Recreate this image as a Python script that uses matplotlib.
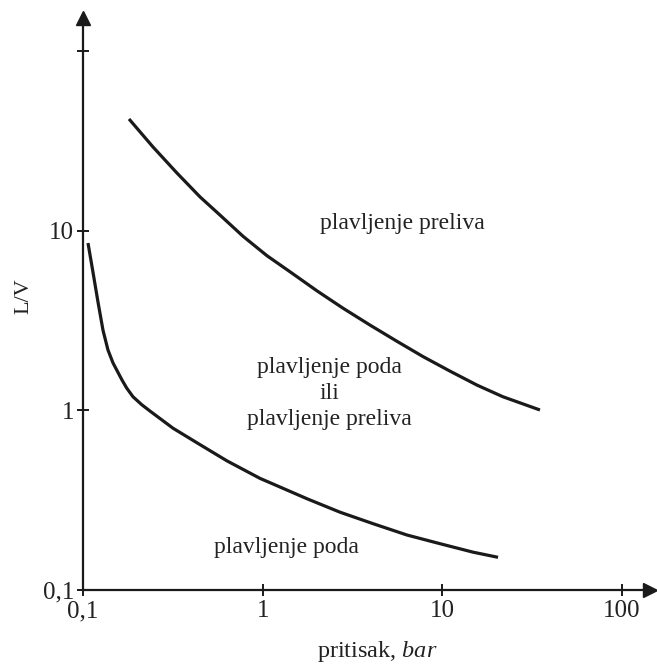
import matplotlib
matplotlib.use("Agg")
import matplotlib.pyplot as plt

# upper boundary curve (flooding of overflow)
upper_x = [0.1803, 0.2452, 0.3335, 0.4479, 0.5786, 0.777, 1.056, 1.419, 2.005, 2.798,
           3.955, 5.59, 7.80, 11.02, 15.58, 21.7, 34.9]
upper_y = [41.8, 29.2, 20.9, 15.4, 12.2, 9.3, 7.25, 5.90, 4.62, 3.70,
           2.98, 2.42, 1.99, 1.652, 1.381, 1.190, 1.004]

# lower boundary curve (flooding of floor)
lower_x = [0.1066, 0.1137, 0.1212, 0.1292, 0.1377, 0.1469, 0.1648, 0.175, 0.1897, 0.2121,
           0.236, 0.3168, 0.4479, 0.633, 0.966, 1.141, 1.764, 2.693, 4.11, 6.35, 9.70,
           14.8, 20.4]
lower_y = [8.53, 5.85, 4.00, 2.79, 2.166, 1.834, 1.475, 1.33, 1.19, 1.075,
           0.99, 0.795, 0.644, 0.523, 0.418, 0.389, 0.322, 0.271, 0.234, 0.2023, 0.181,
           0.1624, 0.152]

x_ticks = [0.1, 1, 10, 100]
x_ticklabels = ["0,1", "1", "10", "100"]
y_ticks = [0.1, 1, 10, 100]
y_ticklabels = ["0,1", "1", "10", ""]

region_labels = ["plavljenje preliva", "plavljenje poda\nili\nplavljenje preliva", "plavljenje poda"]
region_pos = [(5.96, 11.0), (2.34, 1.235), (1.35, 0.173)]

plt.rcParams['font.family'] = ['Liberation Serif', 'DejaVu Serif']
plt.rcParams['mathtext.fontset'] = 'custom'
plt.rcParams['mathtext.rm'] = 'Liberation Serif'
plt.rcParams['mathtext.it'] = 'Liberation Serif:italic'

W, H = 657, 664
fig = plt.figure(figsize=(W / 100, H / 100), dpi=100)
left, bottom = 83 / W, (H - 590) / H
ax = fig.add_axes([left, bottom, (650 - 83) / W, (590 - 18) / H])

ax.set_xscale('log')
ax.set_yscale('log')
px = 179.7
ax.set_xlim(0.1, 10 ** (-1 + (650 - 83) / px))
ax.set_ylim(0.1, 10 ** (-1 + (590 - 18) / px))

ink = '#1a1a1a'
ax.plot(upper_x, upper_y, color=ink, lw=2.3, solid_capstyle='butt', solid_joinstyle='round')
ax.plot(lower_x, lower_y, color=ink, lw=2.3, solid_capstyle='butt', solid_joinstyle='round')

for s in ['top', 'right']:
    ax.spines[s].set_visible(False)
for s in ['left', 'bottom']:
    ax.spines[s].set_linewidth(1.6)
    ax.spines[s].set_color(ink)

# arrow heads
ax.plot([1], [0], marker='>', color=ink, markersize=10, transform=ax.transAxes, clip_on=False)
ax.plot([0], [1], marker='^', color=ink, markersize=10, transform=ax.transAxes, clip_on=False)

ax.set_xticks(x_ticks)
ax.set_xticklabels(x_ticklabels)
ax.set_yticks(y_ticks)
ax.set_yticklabels(y_ticklabels)
ax.minorticks_off()
ax.tick_params(axis='both', direction='inout', length=9, width=1.4, colors=ink,
               labelsize=18, labelcolor='#222222')
ax.tick_params(axis='x', pad=3)
ax.tick_params(axis='y', pad=2)

for txt, (tx, ty) in zip(region_labels, region_pos):
    ax.text(tx, ty, txt, ha='center', va='center', fontsize=17, color='#222222',
            linespacing=1.32)

fig.text(377 / W, 1 - 651 / H, "pritisak, $\\mathit{bar}$", ha='center', va='center',
         fontsize=17.5, color='#222222')
fig.text(24 / W, 1 - 296 / H, "L/V", ha='center', va='center', rotation=90,
         fontsize=16, color='#222222')

fig.savefig("out.png", dpi=100, facecolor='white')
